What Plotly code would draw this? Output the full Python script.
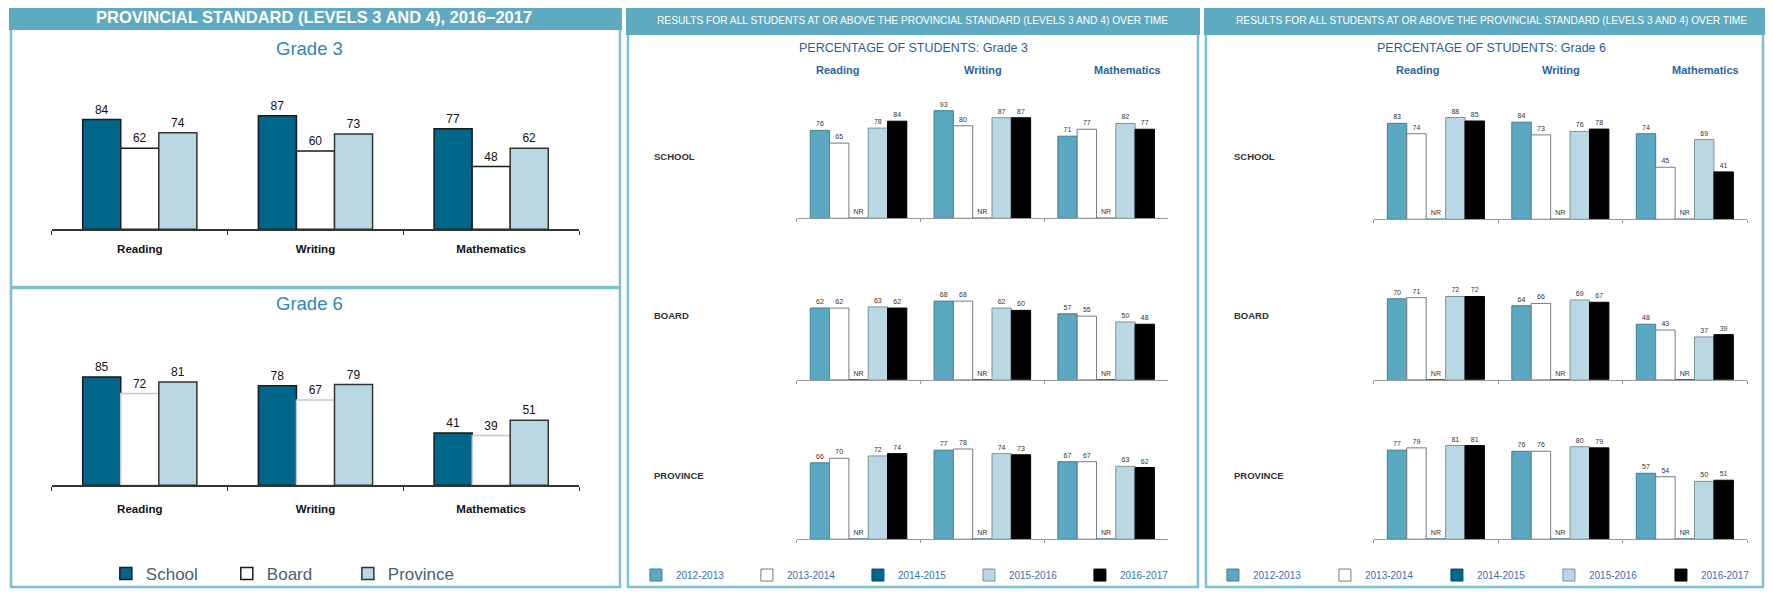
import plotly.graph_objects as go

OFF = 8                      # default page margin of the html body
W, H = 1773 - OFF, 592 - OFF
FONT = "Liberation Sans, Arial, sans-serif"

# ---------------- data ----------------
subjects = ["Reading", "Writing", "Mathematics"]

levels = ["School", "Board", "Province"]
g3_school = [84, 87, 77]
g3_board = [62, 60, 48]
g3_province = [74, 73, 62]
g6_school = [85, 78, 41]
g6_board = [72, 67, 39]
g6_province = [81, 79, 51]

years = ["2012-2013", "2013-2014", "2014-2015", "2015-2016", "2016-2017"]
# rows = years, columns = Reading, Writing, Mathematics ; None = not reported
g3_time_school = [[76, 93, 71], [65, 80, 77], [None, None, None], [78, 87, 82], [84, 87, 77]]
g3_time_board = [[62, 68, 57], [62, 68, 55], [None, None, None], [63, 62, 50], [62, 60, 48]]
g3_time_province = [[66, 77, 67], [70, 78, 67], [None, None, None], [72, 74, 63], [74, 73, 62]]
g6_time_school = [[83, 84, 74], [74, 73, 45], [None, None, None], [88, 76, 69], [85, 78, 41]]
g6_time_board = [[70, 64, 48], [71, 66, 43], [None, None, None], [72, 69, 37], [72, 67, 39]]
g6_time_province = [[77, 76, 57], [79, 76, 54], [None, None, None], [81, 80, 50], [81, 79, 51]]
nr_label = "NR"

row_labels = ["SCHOOL", "BOARD", "PROVINCE"]

# ---------------- styles ----------------
level_colors = ["#00678a", "#ffffff", "#b9d8e3"]
level_lines_g3 = ["#1a1a1a", "#1a1a1a", "#333333"]
level_lines_g6 = ["#1a1a1a", "#c8c8c8", "#333333"]
year_colors = ["#5aa8c1", "#ffffff", "#00678a", "#b9d8e3", "#000000"]
year_lines = ["#3d7d93", "#7a7a7a", "#004d66", "#7d939b", "#000000"]
HEADER = "#5fa9c1"
BORDER = "#7fbfd4"


def fx(px):
    return (px - OFF) / W


def fy(py):
    return 1 - (py - OFF) / H


fig = go.Figure()
layout = dict(
    width=W, height=H, margin=dict(l=0, r=0, t=0, b=0),
    paper_bgcolor="white", plot_bgcolor="rgba(0,0,0,0)",
    font=dict(family=FONT), barmode="overlay", showlegend=True,
)

axis_n = [0]


def add_axes(x0, x1, base, height, ticklabels, standoff=8):
    axis_n[0] += 1
    k = axis_n[0]
    sfx = "" if k == 1 else str(k)
    xa = dict(domain=[fx(x0), fx(x1)], anchor="y" + sfx, type="category",
              range=[-0.5, 2.5], showgrid=False, zeroline=False, showline=True,
              ticks="outside", tickson="boundaries", fixedrange=True)
    if ticklabels:
        xa.update(linecolor="#333333", linewidth=1.5, tickcolor="#333333", ticklen=4,
                  tickfont=dict(size=11.5, color="#111111", family=FONT, weight="bold"),
                  ticklabelstandoff=standoff)
    else:
        xa.update(linecolor="#9a9a9a", linewidth=1, tickcolor="#9a9a9a", ticklen=3,
                  showticklabels=False)
    ya = dict(domain=[fy(base), fy(base - height)], anchor="x" + sfx, range=[0, 100],
              visible=False, fixedrange=True)
    layout["xaxis" + sfx] = xa
    layout["yaxis" + sfx] = ya
    return "x" + sfx, "y" + sfx


# ---- Panel A : 2016-2017 School / Board / Province ----
A_group, A_n = 0.65, 3
A_w = A_group / A_n
for (vals, lines, base, height, show, so) in [
    ([g3_school, g3_board, g3_province], level_lines_g3, 230, 131, True, 8),
    ([g6_school, g6_board, g6_province], level_lines_g6, 487, 128, False, 12),
]:
    xr, yr = add_axes(52, 580, base, height, True, so)
    for i, name in enumerate(levels):
        fig.add_trace(go.Bar(
            x=subjects, y=vals[i], name=name, xaxis=xr, yaxis=yr,
            width=A_w, offset=-A_group / 2 + i * A_w,
            marker=dict(color=level_colors[i], line=dict(color=lines[i], width=1.5)),
            text=[str(v) for v in vals[i]], textposition="outside", textangle=0,
            constraintext="none", cliponaxis=False,
            textfont=dict(size=12, color="#111111", family=FONT),
            legend="legend", showlegend=show, hoverinfo="skip",
        ))

# ---- Panels B and C : over time ----
T_group, T_n = 0.78, 5
T_w = T_group / T_n
panels = [
    (798, 1170, [219, 381, 541], [g3_time_school, g3_time_board, g3_time_province], "legend2"),
    (1376, 1750, [220, 381, 541], [g6_time_school, g6_time_board, g6_time_province], "legend3"),
]
for (x0, x1, bases, rows, leg) in panels:
    for r, (base, table) in enumerate(zip(bases, rows)):
        xr, yr = add_axes(x0, x1, base, 116, False)
        for j, yr_name in enumerate(years):
            vals = table[j]
            fig.add_trace(go.Bar(
                x=subjects, y=[0 if v is None else v for v in vals], name=yr_name,
                xaxis=xr, yaxis=yr, width=T_w, offset=-T_group / 2 + j * T_w,
                marker=dict(color=year_colors[j], line=dict(color=year_lines[j], width=1)),
                text=[nr_label if v is None else str(v) for v in vals],
                textposition="outside", textangle=0, constraintext="none", cliponaxis=False,
                textfont=dict(size=7, color="#333333", family=FONT),
                legend=leg, showlegend=(r == 0), hoverinfo="skip",
            ))

# ---------------- legends ----------------
layout["legend"] = dict(orientation="h", x=fx(106), y=fy(576), xanchor="left", yanchor="middle",
                        entrywidth=76, entrywidthmode="pixels", bgcolor="rgba(0,0,0,0)",
                        font=dict(size=17, color="#4a5f73", family=FONT))
layout["legend2"] = dict(orientation="h", x=fx(637), y=fy(577), xanchor="left", yanchor="middle",
                         entrywidth=66, entrywidthmode="pixels", bgcolor="rgba(0,0,0,0)",
                         font=dict(size=10, color="#3573b0", family=FONT))
layout["legend3"] = dict(orientation="h", x=fx(1215), y=fy(577), xanchor="left", yanchor="middle",
                         entrywidth=67, entrywidthmode="pixels", bgcolor="rgba(0,0,0,0)",
                         font=dict(size=10, color="#3573b0", family=FONT))

# ---------------- frame shapes ----------------
shapes = []


def rect(x0, y0, x1, y1, fill=None, line=None, lw=0):
    shapes.append(dict(type="rect", xref="paper", yref="paper",
                       x0=fx(x0), x1=fx(x1), y0=fy(y1), y1=fy(y0),
                       fillcolor=fill if fill else "rgba(0,0,0,0)",
                       line=dict(color=line if line else "rgba(0,0,0,0)", width=lw),
                       layer="below"))


# panel borders
rect(11, 28, 621, 589, line=BORDER, lw=2.5)
rect(629, 32, 1200, 589, line=BORDER, lw=2.5)
rect(1208, 32, 1766, 589, line=BORDER, lw=2.5)
# grade 3 / grade 6 separator
shapes.append(dict(type="line", xref="paper", yref="paper", x0=fx(11), x1=fx(621),
                   y0=fy(288.5), y1=fy(288.5), line=dict(color=BORDER, width=3.5)))
# header bars
rect(9, 5, 623, 30, fill=HEADER)
rect(627, 6, 1202, 35, fill=HEADER)
rect(1206, 6, 1768, 35, fill=HEADER)
layout["shapes"] = shapes

# ---------------- text ----------------
anns = []


def ann(x, y, text, size, color, bold=False, xanchor="center"):
    anns.append(dict(x=fx(x), y=fy(y), xref="paper", yref="paper", text=text, showarrow=False,
                     xanchor=xanchor, yanchor="middle",
                     font=dict(size=size, color=color, family=FONT, weight="bold" if bold else "normal")))


ann(315, 17, "PROVINCIAL STANDARD (LEVELS 3 AND 4), 2016–2017", 16.5, "white", bold=True)
ann(310, 49, "Grade 3", 18.5, "#2d86c0")
ann(310, 305, "Grade 6", 18.5, "#2d86c0")

over_time = "RESULTS FOR ALL STUDENTS AT OR ABOVE THE PROVINCIAL STANDARD (LEVELS 3 AND 4) OVER TIME"
ann(914, 21, over_time, 10.2, "white")
ann(1494, 21, over_time, 10.2, "white")
ann(915, 48, "PERCENTAGE OF STUDENTS: Grade 3", 12.5, "#1f5f9f")
ann(1494, 48, "PERCENTAGE OF STUDENTS: Grade 6", 12.5, "#1f5f9f")
for xs in ([839, 985, 1129], [1420, 1564, 1708]):
    for xx, s in zip(xs, subjects):
        ann(xx, 70, s, 11, "#2b63a0", bold=True)
for xl in (653, 1234):
    for yy, lab in zip([157, 317, 477], row_labels):
        ann(xl, yy, lab, 9.5, "#333333", bold=True, xanchor="left")
layout["annotations"] = anns

fig.update_layout(**layout)
fig.write_html("out.html")
